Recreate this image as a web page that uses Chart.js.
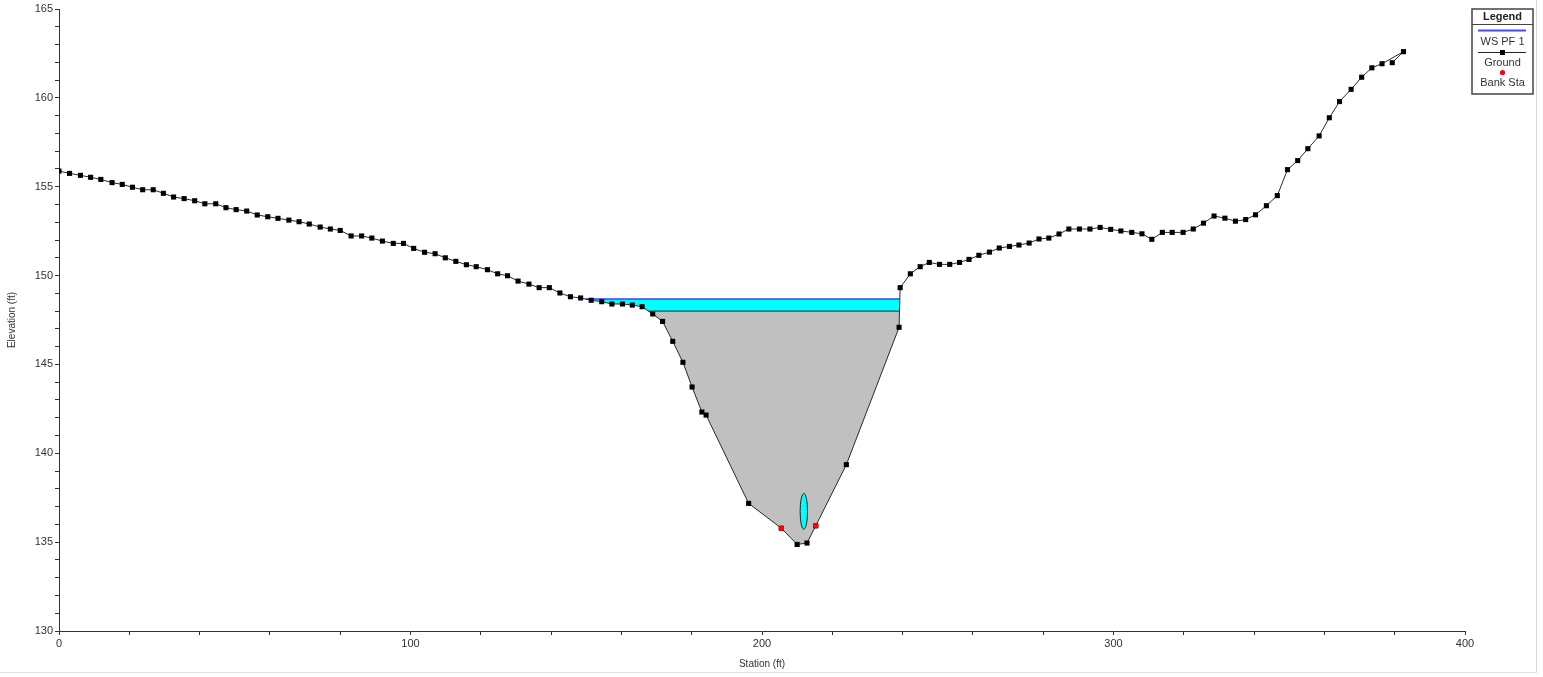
<!DOCTYPE html>
<html>
<head>
<meta charset="utf-8">
<title>Cross Section</title>
<script src="https://cdn.jsdelivr.net/npm/chart.js@4.4.1/dist/chart.umd.min.js"></script>
<style>
  html, body { margin: 0; padding: 0; background: #fff; }
  #wrap { width: 1536px; height: 672px; border-right: 1px solid #d8d8d8; border-bottom: 1px solid #e2e2e2; }
</style>
</head>
<body>
<div id="wrap"><canvas id="xs" width="1536" height="672"></canvas></div>
<script>
// ground survey points, station (ft) and elevation (ft)
const stations = [0, 3.0, 6.1, 9.0, 11.9, 15.1, 18.0, 20.9, 23.8, 26.8,
  29.7, 32.6, 35.6, 38.6, 41.5, 44.6, 47.5, 50.4, 53.4, 56.4,
  59.4, 62.3, 65.4, 68.3, 71.2, 74.3, 77.2, 80.0, 83.1, 86.1,
  89.0, 92.0, 95.1, 98.0, 100.9, 104.0, 107.0, 109.9, 112.9, 115.9,
  118.7, 121.9, 124.8, 127.6, 130.6, 133.7, 136.6, 139.5, 142.5, 145.5,
  148.4, 151.4, 154.4, 157.3, 160.3, 163.1, 165.9, 168.9, 171.7, 174.6,
  177.5, 180.1, 182.9, 184.1, 196.2, 205.5, 210.0, 212.8, 215.3, 224.0,
  239.0, 239.3, 242.2, 245.0, 247.6, 250.5, 253.4, 256.2, 258.9, 261.7,
  264.7, 267.5, 270.4, 273.1, 276.0, 278.8, 281.6, 284.5, 287.3, 290.3,
  293.3, 296.2, 299.2, 302.1, 305.2, 308.1, 310.9, 313.9, 316.7, 319.8,
  322.7, 325.6, 328.6, 331.7, 334.7, 337.6, 340.4, 343.5, 346.6, 349.5,
  352.4, 355.3, 358.5, 361.4, 364.3, 367.6, 370.6, 373.5, 376.4, 382.5,
  379.3];
const elevations = [155.88, 155.75, 155.64, 155.53, 155.41, 155.23, 155.13, 154.97, 154.83, 154.83,
  154.63, 154.42, 154.33, 154.21, 154.04, 154.04, 153.82, 153.71, 153.63, 153.41,
  153.31, 153.22, 153.12, 153.03, 152.90, 152.73, 152.62, 152.54, 152.23, 152.23,
  152.11, 151.94, 151.81, 151.81, 151.53, 151.31, 151.23, 151.00, 150.80, 150.61,
  150.50, 150.33, 150.10, 149.99, 149.69, 149.52, 149.32, 149.32, 149.02, 148.81,
  148.74, 148.61, 148.53, 148.40, 148.40, 148.34, 148.25, 147.84, 147.42, 146.30,
  145.12, 143.73, 142.32, 142.15, 137.18, 135.78, 134.87, 134.95, 135.92, 139.36,
  147.09, 149.32, 150.10, 150.50, 150.74, 150.63, 150.63, 150.74, 150.91, 151.14,
  151.32, 151.55, 151.64, 151.72, 151.83, 152.06, 152.11, 152.34, 152.62, 152.62,
  152.62, 152.71, 152.60, 152.51, 152.43, 152.35, 152.04, 152.43, 152.43, 152.43,
  152.62, 152.95, 153.35, 153.23, 153.06, 153.15, 153.42, 153.93, 154.50, 155.96,
  156.47, 157.14, 157.86, 158.88, 159.79, 160.48, 161.16, 161.69, 161.92, 162.60,
  161.98];

const bankStations = [205.5, 215.3];
const bankElevations = [135.78, 135.92];

const wsElev = 148.68;     // WS PF 1
const blockedTop = 148.0;  // top of the grey blocked area

// small opening shown inside the channel
const opening = { station: 211.9, elev: 136.73, span: 2.1, rise: 2.03 };

const xLabels = [0, 100, 200, 300, 400];
const yLabels = [130, 135, 140, 145, 150, 155, 160, 165];

const legendItems = ['WS PF 1', 'Ground', 'Bank Sta'];

const FONT = 'Liberation Sans, Arial, sans-serif';

const ground = stations.map((s, i) => ({ x: s, y: elevations[i] }));

// ground between the two points where it crosses `level`, around the thalweg
function clipBelow(level) {
  let lo = 0;
  for (let i = 1; i < elevations.length; i++) if (elevations[i] < elevations[lo]) lo = i;
  let a = lo, b = lo;
  while (a > 0 && elevations[a - 1] < level) a--;
  while (b < elevations.length - 1 && elevations[b + 1] < level) b++;
  const cross = (i, j) => {
    const t = (level - elevations[i]) / (elevations[j] - elevations[i]);
    return { x: stations[i] + t * (stations[j] - stations[i]), y: level };
  };
  const pts = [cross(a - 1, a)];
  for (let i = a; i <= b; i++) pts.push({ x: stations[i], y: elevations[i] });
  pts.push(cross(b + 1, b));
  return pts;
}

const greyArea = clipBelow(blockedTop);

// water band: ground under the water surface, floored at the blocked top
const wsPts = clipBelow(wsElev);
const waterArea = [];
for (let i = 0; i < wsPts.length; i++) {
  const p = wsPts[i];
  if (i > 0) {
    const q = wsPts[i - 1];
    if ((q.y - blockedTop) * (p.y - blockedTop) < 0) {
      const t = (blockedTop - q.y) / (p.y - q.y);
      waterArea.push({ x: q.x + t * (p.x - q.x), y: blockedTop });
    }
  }
  waterArea.push({ x: p.x, y: Math.max(p.y, blockedTop) });
}

const wsLine = [wsPts[0], wsPts[wsPts.length - 1]];
const blockedLine = [greyArea[0], greyArea[greyArea.length - 1]];

const openingPlugin = {
  id: 'opening',
  afterDatasetsDraw(chart) {
    const { ctx, scales: { x, y } } = chart;
    const cx = x.getPixelForValue(opening.station);
    const cy = y.getPixelForValue(opening.elev);
    const rx = Math.abs(x.getPixelForValue(opening.station + opening.span / 2) - cx);
    const ry = Math.abs(y.getPixelForValue(opening.elev + opening.rise / 2) - cy);
    ctx.save();
    ctx.beginPath();
    ctx.ellipse(cx, cy, rx, ry, 0, 0, Math.PI * 2);
    ctx.fillStyle = '#00ffff';
    ctx.fill();
    ctx.lineWidth = 1;
    ctx.strokeStyle = '#222';
    ctx.stroke();
    ctx.restore();
  }
};

// boxed legend in the top right corner, symbol above each label
const boxLegend = {
  id: 'boxLegend',
  afterDraw(chart) {
    const ctx = chart.ctx;
    const left = chart.width - 64, top = 9, w = 61, h = 85;
    const cx = left + w / 2;
    ctx.save();
    ctx.strokeStyle = '#444';
    ctx.lineWidth = 1.5;
    ctx.strokeRect(left, top, w, h);
    ctx.lineWidth = 1;
    ctx.beginPath();
    ctx.moveTo(left, top + 15.5);
    ctx.lineTo(left + w, top + 15.5);
    ctx.stroke();

    ctx.textAlign = 'center';
    ctx.textBaseline = 'middle';
    ctx.fillStyle = '#222';
    ctx.font = 'bold 11px ' + FONT;
    ctx.fillText('Legend', cx, top + 7.5);

    ctx.font = '11px ' + FONT;
    ctx.fillStyle = '#333';
    // WS PF 1
    ctx.strokeStyle = '#4a4aff';
    ctx.lineWidth = 2;
    ctx.beginPath();
    ctx.moveTo(left + 6, top + 21.5);
    ctx.lineTo(left + w - 7, top + 21.5);
    ctx.stroke();
    ctx.fillText(legendItems[0], cx, top + 32.5);
    // Ground
    ctx.strokeStyle = '#222';
    ctx.lineWidth = 1;
    ctx.beginPath();
    ctx.moveTo(left + 6, top + 43.5);
    ctx.lineTo(left + w - 7, top + 43.5);
    ctx.stroke();
    ctx.fillStyle = '#000';
    ctx.fillRect(cx - 2.5, top + 41, 5, 5);
    ctx.fillStyle = '#333';
    ctx.fillText(legendItems[1], cx, top + 53.5);
    // Bank Sta
    ctx.fillStyle = '#ff0000';
    ctx.beginPath();
    ctx.arc(cx, top + 63.5, 2.6, 0, Math.PI * 2);
    ctx.fill();
    ctx.fillStyle = '#333';
    ctx.fillText(legendItems[2], cx, top + 73.5);
    ctx.restore();
  }
};

new Chart(document.getElementById('xs'), {
  type: 'line',
  data: {
    datasets: [
      {
        label: 'Bank Sta',
        data: bankStations.map((s, i) => ({ x: s, y: bankElevations[i] })),
        showLine: false,
        pointStyle: 'circle',
        pointRadius: 2.8,
        pointBackgroundColor: '#ff0000',
        pointBorderWidth: 0
      },
      {
        label: 'Ground',
        data: ground,
        borderColor: '#2a2a2a',
        borderWidth: 1,
        pointStyle: 'rect',
        pointRadius: 3.6,
        pointBackgroundColor: '#000',
        pointBorderWidth: 0,
        fill: false
      },
      {
        label: 'WS PF 1',
        data: wsLine,
        borderColor: '#3f3fff',
        borderWidth: 1.5,
        pointRadius: 0,
        fill: false
      },
      {
        label: 'blocked top',
        data: blockedLine,
        borderColor: '#2a2a2a',
        borderWidth: 1,
        pointRadius: 0,
        fill: false
      },
      {
        label: 'water',
        data: waterArea,
        borderWidth: 0,
        borderColor: 'rgba(0,0,0,0)',
        pointRadius: 0,
        backgroundColor: '#00ffff',
        fill: { value: wsElev }
      },
      {
        label: 'blocked',
        data: greyArea,
        borderWidth: 0,
        borderColor: 'rgba(0,0,0,0)',
        pointRadius: 0,
        backgroundColor: '#c0c0c0',
        fill: { value: blockedTop }
      }
    ]
  },
  options: {
    responsive: false,
    animation: false,
    layout: { padding: { top: 9, right: 71, bottom: 2, left: 0 } },
    plugins: {
      legend: { display: false },
      tooltip: { enabled: false }
    },
    elements: { line: { tension: 0 } },
    scales: {
      x: {
        type: 'linear',
        min: 0,
        max: 400,
        afterFit(scale) { scale.height = 39; },
        border: { color: '#333', width: 1 },
        grid: { drawOnChartArea: false, drawTicks: true, tickLength: 4, color: '#333' },
        ticks: {
          stepSize: 20,
          autoSkip: false,
          maxRotation: 0,
          padding: 2,
          color: '#333',
          font: { family: FONT, size: 11 },
          callback: v => (xLabels.includes(v) ? String(v) : '')
        },
        title: {
          display: true,
          text: 'Station (ft)',
          color: '#333',
          font: { family: FONT, size: 10 },
          padding: { top: 0, bottom: 0 }
        }
      },
      y: {
        type: 'linear',
        min: 130,
        max: 165,
        afterFit(scale) { scale.width = 59; },
        border: { color: '#333', width: 1 },
        grid: { drawOnChartArea: false, drawTicks: true, tickLength: 4, color: '#333' },
        ticks: {
          stepSize: 1,
          autoSkip: false,
          padding: 2,
          color: '#333',
          font: { family: FONT, size: 11 },
          callback: v => (yLabels.includes(v) ? String(v) : '')
        },
        title: {
          display: true,
          text: 'Elevation (ft)',
          color: '#333',
          font: { family: FONT, size: 10 },
          padding: { top: 6, bottom: 0 }
        }
      }
    }
  },
  plugins: [openingPlugin, boxLegend]
});
</script>
</body>
</html>
